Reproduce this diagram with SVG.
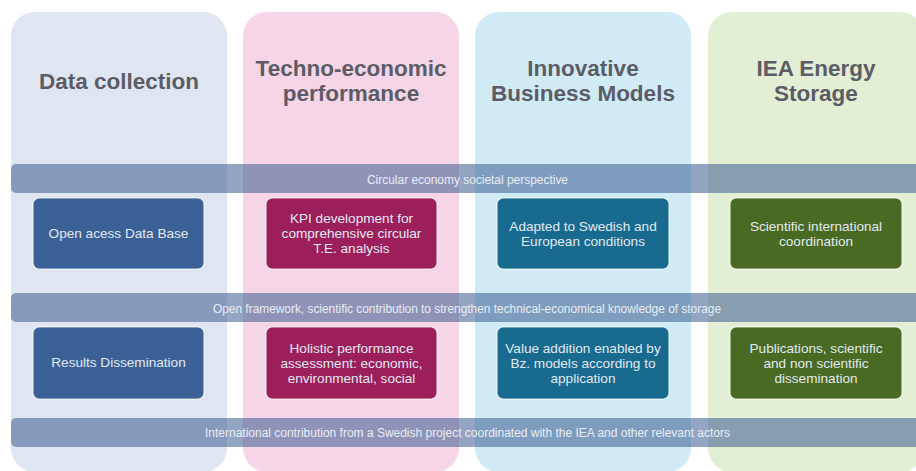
<svg xmlns="http://www.w3.org/2000/svg" width="916" height="471" viewBox="0 0 916 471">
  <style>
    .col { stroke: none; }
    .title { font-family: "Liberation Sans", Arial, sans-serif; font-weight: bold; font-size: 22.5px; fill: #5c5c66; text-anchor: middle; }
    .band { fill: #3f5f92; fill-opacity: 0.56; }
    .band-text { font-family: "Liberation Sans", Arial, sans-serif; font-size: 12px; fill: #e8edf4; text-anchor: middle; }
    .box { stroke: #ffffff; stroke-opacity: 0.75; stroke-width: 1.2; }
    .box-text { font-family: "Liberation Sans", Arial, sans-serif; font-size: 13.6px; fill: #e2e9f2; text-anchor: middle; }
  </style>

  <rect width="916" height="471" fill="#ffffff"/>

  <!-- column backgrounds with headings -->
  <g id="col-data">
    <rect class="col" x="11" y="12" width="216" height="460" rx="24" fill="#dfe6f1"/>
    <text class="title" x="119" y="89">Data collection</text>
  </g>
  <g id="col-techno">
    <rect class="col" x="243" y="12" width="216" height="460" rx="24" fill="#f5d5e6"/>
    <text class="title" x="351" y="76">Techno-economic</text>
    <text class="title" x="351" y="101">performance</text>
  </g>
  <g id="col-business">
    <rect class="col" x="475" y="12" width="216" height="460" rx="24" fill="#d0eaf6"/>
    <text class="title" x="583" y="76">Innovative</text>
    <text class="title" x="583" y="101">Business Models</text>
  </g>
  <g id="col-iea">
    <rect class="col" x="708" y="12" width="216" height="460" rx="24" fill="#e2efd5"/>
    <text class="title" x="816" y="76">IEA Energy</text>
    <text class="title" x="816" y="101">Storage</text>
  </g>

  <!-- horizontal cross-cutting bands -->
  <g id="bands">
    <g id="band-circular">
      <rect class="band" x="11" y="164" width="915" height="29" rx="5"/>
      <text class="band-text" x="467.5" y="184" textLength="201" lengthAdjust="spacingAndGlyphs">Circular economy societal perspective</text>
    </g>
    <g id="band-framework">
      <rect class="band" x="11" y="293" width="915" height="29" rx="5"/>
      <text class="band-text" x="467" y="313" textLength="508" lengthAdjust="spacingAndGlyphs">Open framework, scientific contribution to strengthen technical-economical knowledge of storage</text>
    </g>
    <g id="band-international">
      <rect class="band" x="11" y="418" width="915" height="29" rx="5"/>
      <text class="band-text" x="467.5" y="437" textLength="525" lengthAdjust="spacingAndGlyphs">International contribution from a  Swedish project coordinated with the IEA and other relevant actors</text>
    </g>
  </g>

  <!-- first row of boxes -->
  <g id="box-open-data">
    <rect class="box" x="33" y="198" width="171" height="71" rx="6" fill="#3a6096"/>
    <text class="box-text" x="118.5" y="238">Open acess Data Base</text>
  </g>
  <g id="box-kpi">
    <rect class="box" x="266" y="198" width="171" height="71" rx="6" fill="#9c1f5b"/>
    <text class="box-text" x="351.5" y="222.5">KPI development for</text>
    <text class="box-text" x="351.5" y="237.5">comprehensive circular</text>
    <text class="box-text" x="351.5" y="252.5">T.E. analysis</text>
  </g>
  <g id="box-adapted">
    <rect class="box" x="497" y="198" width="172" height="71" rx="6" fill="#186a8f"/>
    <text class="box-text" x="583" y="230.5">Adapted to Swedish and</text>
    <text class="box-text" x="583" y="245.5">European conditions</text>
  </g>
  <g id="box-coordination">
    <rect class="box" x="730" y="198" width="172" height="71" rx="6" fill="#486a22"/>
    <text class="box-text" x="816" y="230.5">Scientific international</text>
    <text class="box-text" x="816" y="245.5">coordination</text>
  </g>

  <!-- second row of boxes -->
  <g id="box-results">
    <rect class="box" x="33" y="327" width="171" height="72" rx="6" fill="#3a6096"/>
    <text class="box-text" x="118.5" y="367">Results Dissemination</text>
  </g>
  <g id="box-holistic">
    <rect class="box" x="266" y="327" width="171" height="72" rx="6" fill="#9c1f5b"/>
    <text class="box-text" x="351.5" y="352.5">Holistic performance</text>
    <text class="box-text" x="351.5" y="367.5">assessment: economic,</text>
    <text class="box-text" x="351.5" y="382.5">environmental, social</text>
  </g>
  <g id="box-value">
    <rect class="box" x="497" y="327" width="172" height="72" rx="6" fill="#186a8f"/>
    <text class="box-text" x="583" y="352.5">Value addition enabled by</text>
    <text class="box-text" x="583" y="367.5">Bz. models according to</text>
    <text class="box-text" x="583" y="382.5">application</text>
  </g>
  <g id="box-publications">
    <rect class="box" x="730" y="327" width="172" height="72" rx="6" fill="#486a22"/>
    <text class="box-text" x="816" y="352.5">Publications, scientific</text>
    <text class="box-text" x="816" y="367.5">and non scientific</text>
    <text class="box-text" x="816" y="382.5">dissemination</text>
  </g>
</svg>
